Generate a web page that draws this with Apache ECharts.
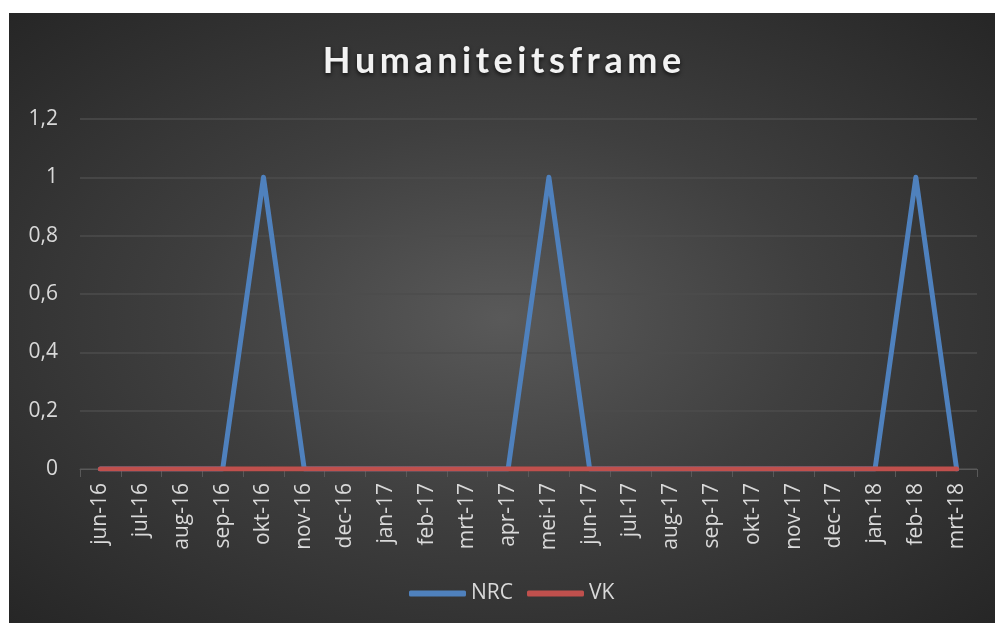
<!DOCTYPE html>
<html>
<head>
<meta charset="utf-8">
<script src="https://cdn.jsdelivr.net/npm/echarts@6/dist/echarts.min.js"></script>
<style>
  html, body { margin: 0; padding: 0; background: #fff; }
  #main {
    position: absolute; left: 9px; top: 13px; width: 986px; height: 610px;
    background: radial-gradient(ellipse at 50% 50%, #595959 0%, #3f3f3f 45%, #262626 100%);
  }
</style>
</head>
<body>
<div id="main"></div>
<script>
// maanden (categorieen)
var months = ['jun-16', 'jul-16', 'aug-16', 'sep-16', 'okt-16', 'nov-16', 'dec-16', 'jan-17',
  'feb-17', 'mrt-17', 'apr-17', 'mei-17', 'jun-17', 'jul-17', 'aug-17', 'sep-17', 'okt-17',
  'nov-17', 'dec-17', 'jan-18', 'feb-18', 'mrt-18'];
var nrc = [0, 0, 0, 0, 1, 0, 0, 0, 0, 0, 0, 1, 0, 0, 0, 0, 0, 0, 0, 0, 1, 0];
var vk = [0, 0, 0, 0, 0, 0, 0, 0, 0, 0, 0, 0, 0, 0, 0, 0, 0, 0, 0, 0, 0, 0];
var titleText = 'Humaniteitsframe';

var myChart = echarts.init(document.getElementById('main'));
var option = {
  backgroundColor: 'transparent',
  title: {
    // hair spaces for the wide letter spacing of the original title
    text: titleText.split('').join('\u200A\u200A'),
    left: 'center',
    top: 25,
    textStyle: {
      color: '#f2f2f2',
      fontFamily: 'Lato',
      fontWeight: 'bold',
      fontSize: 36,
      textShadowColor: 'rgba(0,0,0,0.7)',
      textShadowBlur: 4,
      textShadowOffsetY: 2
    }
  },
  legend: {
    bottom: 14,
    left: 395,
    icon: 'roundRect',
    itemWidth: 57,
    itemHeight: 6,
    itemGap: 14,
    textStyle: { color: '#d9d9d9', fontFamily: 'Open Sans', fontSize: 21 },
    data: ['NRC', 'VK']
  },
  grid: { left: 71, right: 18, top: 106, bottom: 154 },
  xAxis: {
    type: 'category',
    data: months,
    boundaryGap: true,
    axisLine: { lineStyle: { color: '#595959', width: 1 } },
    axisTick: { show: true, length: 8, lineStyle: { color: '#595959' } },
    axisLabel: {
      rotate: 90,
      color: '#d9d9d9',
      fontFamily: 'Open Sans',
      fontSize: 21,
      margin: 14
    }
  },
  yAxis: {
    type: 'value',
    min: 0,
    max: 1.2,
    interval: 0.2,
    axisLine: { show: false },
    axisTick: { show: false },
    splitLine: { lineStyle: { color: '#4d4d4d', width: 1.5 } },
    axisLabel: {
      color: '#d9d9d9',
      fontFamily: 'Open Sans',
      fontSize: 21,
      margin: 22,
      formatter: function (v) {
        return String(Math.round(v * 10) / 10).replace('.', ',');
      }
    }
  },
  series: [
    {
      name: 'NRC',
      type: 'line',
      data: nrc,
      symbol: 'none',
      color: '#4f81bd',
      lineStyle: { color: '#4f81bd', width: 5, cap: 'round', join: 'round' }
    },
    {
      name: 'VK',
      type: 'line',
      data: vk,
      symbol: 'none',
      color: '#c0504d',
      lineStyle: { color: '#c0504d', width: 5, cap: 'round', join: 'round' }
    }
  ]
};
myChart.setOption(option);
</script>
</body>
</html>
